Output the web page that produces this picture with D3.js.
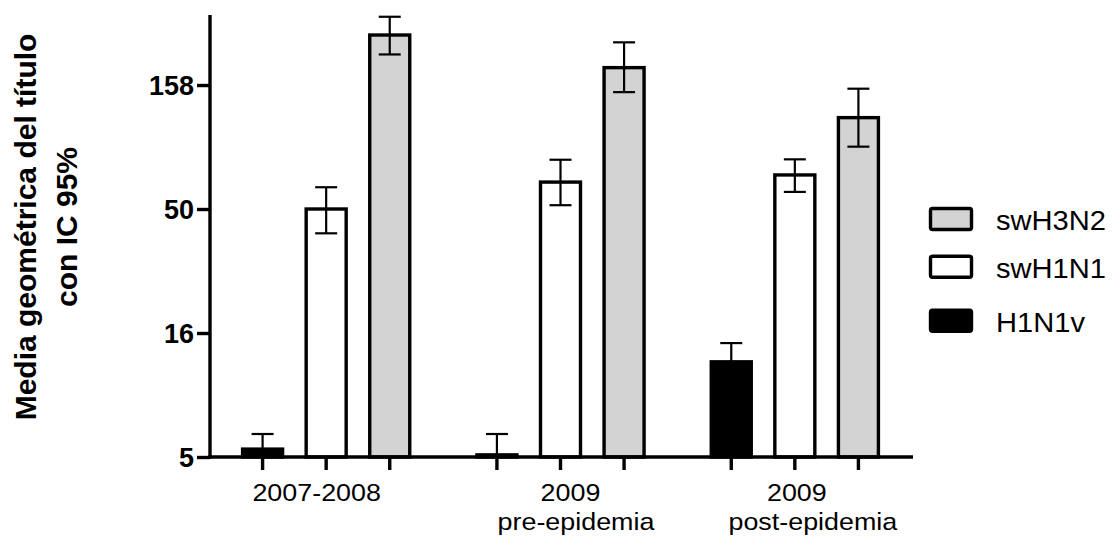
<!DOCTYPE html>
<html>
<head>
<meta charset="utf-8">
<script src="https://cdn.jsdelivr.net/npm/d3@7"></script>
<style>
  html, body { margin: 0; padding: 0; background: #fff; }
  svg { display: block; }
  text { font-family: "Liberation Sans", Arial, Helvetica, sans-serif; fill: #000; }
</style>
</head>
<body>
<svg id="chart" width="1115" height="539"></svg>
<script>
// ---- data ----
const categories = ["2007-2008", "2009 pre-epidemia", "2009 post-epidemia"];
const categoryLines = [["2007-2008"], ["2009", "pre-epidemia"], ["2009", "post-epidemia"]];
const series = ["H1N1v", "swH1N1", "swH3N2"];
const legendOrder = ["swH3N2", "swH1N1", "H1N1v"];

const h1n1vMean  = [5.38, 5.1, 12.1];
const h1n1vUpper = [6.19, 6.19, 14.4];
const h1n1vLower = [5, 5, 10.2];

const swH1N1Mean  = [50, 64.2, 68.6];
const swH1N1Upper = [61.2, 79, 79.3];
const swH1N1Lower = [39.9, 51.8, 58.6];

const swH3N2Mean  = [251.5, 185.8, 116.8];
const swH3N2Upper = [298, 235, 152.8];
const swH3N2Lower = [210, 148, 89.2];

const yTickValues = [5, 15.81, 50, 158.1];
const yTickLabels = ["5", "16", "50", "158"];
const yTitleLines = ["Media geométrica del título", "con IC 95%"];

// ---- build table ----
const seriesData = {
  "H1N1v":  { mean: h1n1vMean,  upper: h1n1vUpper,  lower: h1n1vLower,  fill: "#000000" },
  "swH1N1": { mean: swH1N1Mean, upper: swH1N1Upper, lower: swH1N1Lower, fill: "#ffffff" },
  "swH3N2": { mean: swH3N2Mean, upper: swH3N2Upper, lower: swH3N2Lower, fill: "#d3d3d3" }
};
const rows = [];
categories.forEach((c, i) => {
  series.forEach(s => {
    rows.push({ cat: c, series: s, mean: seriesData[s].mean[i],
                upper: seriesData[s].upper[i], lower: seriesData[s].lower[i],
                fill: seriesData[s].fill });
  });
});

// ---- layout ----
const svg = d3.select("#chart");
const plotLeft = 210, plotRight = 913, plotTop = 15, plotBottom = 457;

const y = d3.scaleLog().domain([5, 302.9]).range([plotBottom, plotTop]);
const x0 = d3.scaleBand().domain(categories).range([209, 912]).paddingInner(0).paddingOuter(0);
const x1 = d3.scaleBand().domain(series).range([0, x0.bandwidth()]).paddingInner(0.354).paddingOuter(0.52);

const barW = 40;
const cx = d => x0(d.cat) + x1(d.series) + x1.bandwidth() / 2;

// bars
svg.append("g").selectAll("rect").data(rows).join("rect")
  .attr("x", d => cx(d) - barW / 2)
  .attr("y", d => y(d.mean))
  .attr("width", barW)
  .attr("height", d => plotBottom - y(d.mean))
  .attr("fill", d => d.fill)
  .attr("stroke", "#000")
  .attr("stroke-width", 3.4);

// error bars
const capW = 22;
const eb = svg.append("g").attr("stroke", "#000").attr("stroke-width", 2.2).attr("fill", "none");
rows.forEach(d => {
  const lo = y(Math.max(d.lower, 5)), hi = y(d.upper);
  eb.append("line").attr("x1", cx(d)).attr("x2", cx(d)).attr("y1", lo).attr("y2", hi);
  eb.append("line").attr("x1", cx(d) - capW / 2).attr("x2", cx(d) + capW / 2).attr("y1", hi).attr("y2", hi);
  eb.append("line").attr("x1", cx(d) - capW / 2).attr("x2", cx(d) + capW / 2).attr("y1", lo).attr("y2", lo);
});

// y axis
const yAxis = d3.axisLeft(y).tickValues(yTickValues)
  .tickFormat((d, i) => yTickLabels[i]).tickSize(13).tickSizeOuter(0).tickPadding(3);
const gy = svg.append("g").attr("transform", `translate(${plotLeft},0)`).call(yAxis);
gy.select(".domain").attr("stroke-width", 3.4).attr("d", `M0,${plotTop}V${plotBottom + 1.5}`);
gy.selectAll(".tick line").attr("stroke-width", 3.4);
gy.selectAll(".tick text").attr("font-size", 27).attr("font-weight", "bold")
  .attr("font-family", "Liberation Sans, Arial, sans-serif").attr("dy", "0.36em");

// x axis
const xAxis = d3.axisBottom(x0).tickSize(0).tickSizeOuter(0).tickFormat("");
const gx = svg.append("g").attr("transform", `translate(0,${plotBottom})`).call(xAxis);
gx.select(".domain").attr("stroke-width", 3.4).attr("d", `M${plotLeft - 1.7},0H${plotRight}`);
gx.selectAll(".tick").remove();
gx.selectAll("line.bt").data(rows).join("line").attr("class", "bt")
  .attr("x1", d => cx(d)).attr("x2", d => cx(d)).attr("y1", 0).attr("y2", 13)
  .attr("stroke", "#000").attr("stroke-width", 3.4);

// x labels (slightly wide glyphs, per-line horizontal nudges as in the original)
const lineDx = [[-9.5], [10, 15.5], [2, 18]];
const lineY = [44, 73];
categories.forEach((c, i) => {
  categoryLines[i].forEach((line, j) => {
    const px = x0(c) + x0.bandwidth() / 2 + lineDx[i][j];
    gx.append("text").attr("text-anchor", "middle").attr("font-size", 24)
      .attr("transform", `translate(${px},${lineY[j]}) scale(1.12,1)`)
      .text(line);
  });
});

// y title
const yt = svg.append("text").attr("transform", "translate(0,227) rotate(-90)")
  .attr("text-anchor", "middle").attr("font-size", 30).attr("font-weight", "bold");
yTitleLines.forEach((line, j) => {
  yt.append("tspan").attr("x", 0).attr("y", 36 + j * 41).text(line);
});

// legend
const legendY = [219, 266.7, 320.7];
const lg = svg.append("g");
legendOrder.forEach((s, i) => {
  lg.append("rect").attr("x", 930.5).attr("y", legendY[i] - 10.5).attr("width", 41).attr("height", 21)
    .attr("rx", 2).attr("fill", seriesData[s].fill).attr("stroke", "#000").attr("stroke-width", 3.4);
  lg.append("text").attr("x", 996).attr("y", legendY[i] + 11).attr("font-size", 28)
    .attr("transform", `translate(996,0) scale(1.04,1) translate(-996,0)`).text(s);
});
</script>
</body>
</html>
